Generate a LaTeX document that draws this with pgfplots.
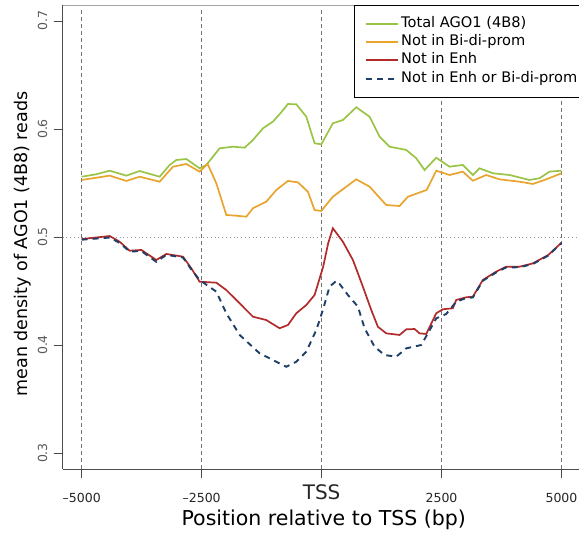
\documentclass[border=0pt]{standalone}
\usepackage{fontspec}
\setmainfont{DejaVu Sans}
\usepackage{pgfplots}
\pgfplotsset{compat=1.18}
\definecolor{cgreen}{HTML}{9AC446}
\definecolor{corange}{HTML}{E8A42D}
\definecolor{cred}{HTML}{B22A2A}
\definecolor{cnavy}{HTML}{1F3F66}
\begin{document}
\begin{tikzpicture}
\begin{axis}[
  at={(62.5pt,64pt)}, anchor=south west,
  scale only axis, width=516.5pt, height=464pt,
  xmin=-5400, xmax=5365, ymin=0.2852, ymax=0.7148,
  axis lines=left, axis line style={-, black!70, line width=0.6pt},
  tick align=outside, major tick length=9pt,
  tick style={black!70, line width=0.6pt},
  /pgf/number format/assume math mode=true,
  xtick={-5000,-2500,0,2500,5000},
  xticklabels={\textendash5000,\textendash2500,{\fontsize{20}{20}\selectfont\raisebox{3.5pt}{TSS}},2500,5000},
  ytick={0.3,0.4,0.5,0.6,0.7},
  yticklabels={0.3,0.4,0.5,0.6,0.7},
  xticklabel style={anchor=base, yshift=-24.5pt, font=\fontsize{12.5}{15}\selectfont, text=black!85},
  yticklabel style={xshift=-6.5pt, rotate=90, anchor=base, font=\fontsize{12.5}{15}\selectfont, text=black!65},
  xlabel={Position relative to TSS (bp)},
  xlabel style={at={([xshift=3pt,yshift=-56.5pt]axis description cs:0.5,0)}, anchor=base, font=\fontsize{20.5}{24}\selectfont},
  ylabel={mean density of AGO1 (4B8) reads},
  ylabel style={at={([xshift=-35pt,yshift=-7pt]axis description cs:0,0.5)}, anchor=base, font=\fontsize{17.5}{21}\selectfont},
  legend style={at={(1,1)}, anchor=north east, xshift=0.5pt, draw=black, fill=white,
    font=\fontsize{14.6}{17}\selectfont, inner xsep=0pt, inner ysep=9.5pt, row sep=0pt,
    nodes={inner xsep=2pt, inner ysep=2.9pt, text height=9.8pt, text depth=2.7pt}},
  legend cell align=left,
  legend image code/.code={\path (-11pt,0pt); \draw[#1, line width=1.9pt] (0pt,0pt) -- (32pt,0pt);},
  clip=false,
]
% reference lines
\addplot[forget plot, black!55, line width=0.7pt, dash pattern=on 4pt off 3pt] coordinates {(-5000,0.2852) (-5000,0.712)};
\addplot[forget plot, black!55, line width=0.7pt, dash pattern=on 4pt off 3pt] coordinates {(-2500,0.2852) (-2500,0.712)};
\addplot[forget plot, black!55, line width=0.7pt, dash pattern=on 4pt off 3pt] coordinates {(0,0.2852) (0,0.712)};
\addplot[forget plot, black!55, line width=0.7pt, dash pattern=on 4pt off 3pt] coordinates {(2500,0.2852) (2500,0.712)};
\addplot[forget plot, black!55, line width=0.7pt, dash pattern=on 4pt off 3pt] coordinates {(5000,0.2852) (5000,0.712)};
\addplot[forget plot, black!40, line width=0.6pt, dash pattern=on 0.8pt off 3pt] coordinates {(-5400,0.5) (5365,0.5)};
\draw[black!35, line width=0.6pt] (rel axis cs:0,1) -- (rel axis cs:1,1);

\addplot[cgreen, line width=1.7pt] table {
-5000 0.5558
-4694 0.5581
-4417 0.5614
-4069 0.5568
-3792 0.5611
-3375 0.5558
-3167 0.5667
-3027 0.5713
-2819 0.5722
-2542 0.5636
-2402 0.5667
-2125 0.5821
-1848 0.5836
-1604 0.5827
-1431 0.5898
-1223 0.6006
-1015 0.6068
-840 0.6155
-702 0.6231
-527 0.6229
-319 0.6114
-146 0.5868
-6 0.5858
235 0.6053
444 0.6083
723 0.6201
1000 0.6114
1208 0.5929
1417 0.5836
1765 0.5806
1973 0.5729
2146 0.5620
2390 0.5734
2667 0.5651
2944 0.5667
3152 0.5574
3292 0.5636
3569 0.5590
3917 0.5574
4333 0.5528
4542 0.5544
4750 0.5605
5000 0.5614
};
\addlegendentry{Total AGO1 (4B8)}

\addplot[corange, line width=1.7pt] table {
-5000 0.5528
-4417 0.5568
-4069 0.5519
-3792 0.5558
-3375 0.5512
-3097 0.5651
-2819 0.5676
-2542 0.5605
-2375 0.5676
-2194 0.5497
-1986 0.5204
-1778 0.5197
-1569 0.5188
-1431 0.5266
-1153 0.5327
-944 0.5435
-702 0.5519
-494 0.5506
-285 0.5419
-146 0.5250
-6 0.5241
235 0.5373
723 0.5534
1000 0.5466
1347 0.5296
1625 0.5287
1799 0.5373
2188 0.5435
2390 0.5614
2667 0.5574
2944 0.5605
3152 0.5521
3431 0.5574
3708 0.5534
4125 0.5512
4403 0.5491
4681 0.5534
5000 0.5590
};
\addlegendentry{Not in Bi-di-prom}

\addplot[cred, line width=1.7pt] table {
-5000 0.4981
-4417 0.5009
-4208 0.4956
-4000 0.4873
-3757 0.4880
-3444 0.4787
-3236 0.4843
-2889 0.4818
-2715 0.4710
-2542 0.4586
-2194 0.4577
-1986 0.4509
-1708 0.4386
-1431 0.4262
-1153 0.4231
-875 0.4155
-702 0.4185
-527 0.4294
-319 0.4370
-146 0.4463
33 0.4725
137 0.4942
235 0.5081
444 0.4956
653 0.4787
861 0.4540
1035 0.4324
1173 0.4169
1347 0.4108
1625 0.4093
1765 0.4145
1938 0.4148
2042 0.4108
2181 0.4102
2390 0.4294
2528 0.4331
2736 0.4340
2806 0.4417
3014 0.4442
3152 0.4447
3361 0.4602
3639 0.4679
3847 0.4725
4125 0.4725
4403 0.4756
4723 0.4833
5000 0.4947
};
\addlegendentry{Not in Enh}

\addplot[cnavy, line width=1.9pt, dash pattern=on 6pt off 5pt] table {
-5000 0.4975
-4417 0.4995
-4208 0.4945
-4000 0.4865
-3757 0.4870
-3444 0.4770
-3236 0.4835
-2889 0.4810
-2715 0.4700
-2542 0.4602
-2194 0.4494
-1986 0.4294
-1708 0.4093
-1292 0.3923
-1015 0.3861
-736 0.3799
-527 0.3845
-319 0.3938
-110 0.4139
27 0.4324
166 0.4540
305 0.4593
340 0.4586
548 0.4463
757 0.4355
896 0.4155
1104 0.3984
1313 0.3907
1556 0.3892
1765 0.3969
2077 0.4000
2215 0.4108
2390 0.4247
2597 0.4287
2806 0.4401
3014 0.4435
3152 0.4440
3361 0.4595
3639 0.4672
3847 0.4718
4125 0.4720
4403 0.4750
4723 0.4828
5000 0.4945
};
\addlegendentry{Not in Enh or Bi-di-prom}
\end{axis}
\pgfresetboundingbox
\useasboundingbox (0,0) rectangle (579pt,533pt);
\end{tikzpicture}
\end{document}
